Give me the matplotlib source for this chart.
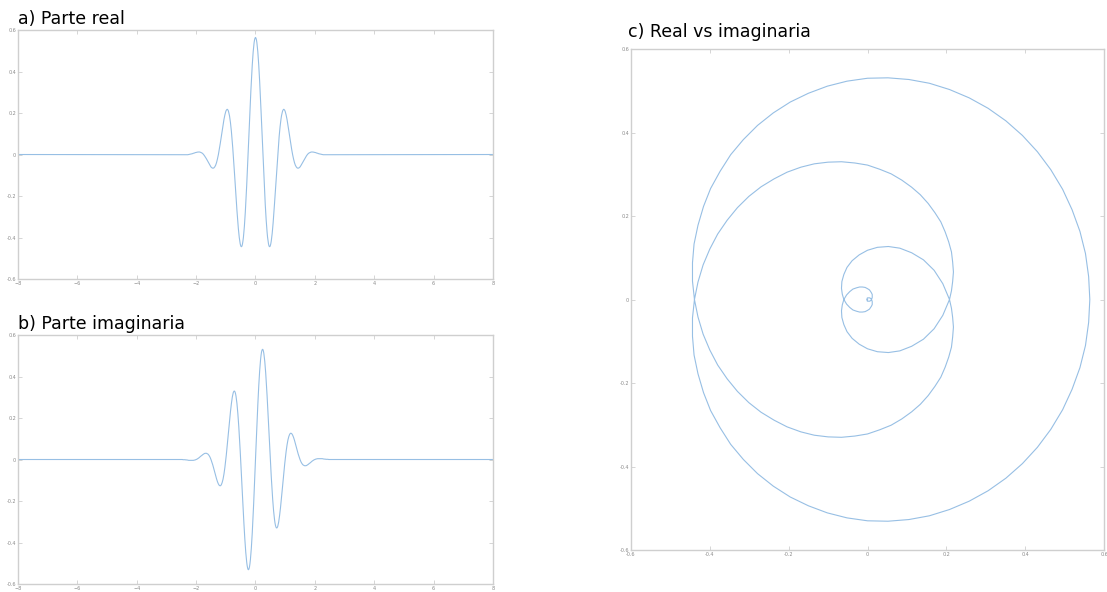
import numpy as np
import matplotlib
matplotlib.use('Agg')
from matplotlib import pyplot as plt

# posiciones de muestreo: pasos de 1/32, más finos (1/64) entre -1 y 1,
# y colas planas hasta +-8
t = ([-8.0] + list(np.arange(-80, -32) / 32) + list(np.arange(-64, 65) / 64)
     + list(np.arange(33, 81) / 32) + [8.0])

# parte real leída del gráfico a)
real = [0.0,
        -0.001, -0.001, -0.001, -0.001, -0.001, -0.001, -0.001, -0.001,
        0.0, 0.001, 0.002, 0.003, 0.004, 0.006, 0.007, 0.009,
        0.010, 0.011, 0.012, 0.012, 0.012, 0.010, 0.008, 0.005,
        0.0, -0.006, -0.013, -0.020, -0.028, -0.037, -0.045, -0.053,
        -0.060, -0.064, -0.066, -0.065, -0.060, -0.052, -0.039, -0.021,
        0.0, 0.025, 0.053, 0.082, 0.112, 0.142, 0.169, 0.191,
        # tramo fino
        0.208, 0.213, 0.216, 0.218, 0.216, 0.213, 0.206, 0.197,
        0.186, 0.171, 0.154, 0.134, 0.112, 0.087, 0.060, 0.031,
        0.0, -0.032, -0.066, -0.100, -0.135, -0.169, -0.204, -0.237,
        -0.270, -0.301, -0.330, -0.356, -0.380, -0.400, -0.417, -0.430,
        -0.439, -0.444, -0.444, -0.440, -0.430, -0.416, -0.398, -0.374,
        -0.347, -0.315, -0.279, -0.239, -0.196, -0.150, -0.102, -0.052,
        0.0, 0.052, 0.105, 0.157, 0.208, 0.258, 0.306, 0.351,
        0.393, 0.431, 0.465, 0.495, 0.519, 0.539, 0.553, 0.561,
        0.564,
        0.561, 0.553, 0.539, 0.519, 0.495, 0.465, 0.431, 0.393,
        0.351, 0.306, 0.258, 0.208, 0.157, 0.105, 0.052, 0.0,
        -0.052, -0.102, -0.150, -0.196, -0.239, -0.279, -0.315, -0.347,
        -0.374, -0.398, -0.416, -0.430, -0.440, -0.444, -0.444, -0.439,
        -0.430, -0.417, -0.400, -0.380, -0.356, -0.330, -0.301, -0.270,
        -0.237, -0.204, -0.169, -0.135, -0.100, -0.066, -0.032, 0.0,
        0.031, 0.060, 0.087, 0.112, 0.134, 0.154, 0.171, 0.186,
        0.197, 0.206, 0.213, 0.216, 0.218, 0.216, 0.213, 0.208,
        # fin del tramo fino
        0.191, 0.169, 0.142, 0.112, 0.082, 0.053, 0.025, 0.0,
        -0.021, -0.039, -0.052, -0.060, -0.065, -0.066, -0.064, -0.060,
        -0.053, -0.045, -0.037, -0.028, -0.020, -0.013, -0.006, 0.0,
        0.005, 0.008, 0.010, 0.012, 0.012, 0.012, 0.011, 0.010,
        0.009, 0.007, 0.006, 0.004, 0.003, 0.002, 0.001, 0.0,
        -0.001, -0.001, -0.001, -0.001, -0.001, -0.001, -0.001, -0.001,
        0.0]

# parte imaginaria leída del gráfico b)
imag = [0.0,
        0.0, 0.0, -0.001, -0.001, -0.001, -0.002, -0.002, -0.003,
        -0.004, -0.004, -0.004, -0.004, -0.004, -0.004, -0.003, -0.002,
        0.0, 0.002, 0.005, 0.008, 0.012, 0.016, 0.019, 0.023,
        0.026, 0.029, 0.030, 0.030, 0.028, 0.025, 0.019, 0.011,
        0.0, -0.013, -0.027, -0.043, -0.060, -0.077, -0.093, -0.107,
        -0.118, -0.125, -0.127, -0.123, -0.112, -0.095, -0.070, -0.038,
        # tramo fino
        0.0, 0.021, 0.043, 0.066, 0.090, 0.114, 0.138, 0.162,
        0.186, 0.208, 0.230, 0.251, 0.269, 0.286, 0.301, 0.312,
        0.322, 0.327, 0.330, 0.329, 0.325, 0.317, 0.305, 0.289,
        0.270, 0.247, 0.220, 0.190, 0.157, 0.121, 0.083, 0.042,
        0.0, -0.044, -0.088, -0.133, -0.178, -0.223, -0.266, -0.307,
        -0.347, -0.383, -0.417, -0.447, -0.473, -0.494, -0.511, -0.523,
        -0.530, -0.531, -0.527, -0.518, -0.503, -0.483, -0.458, -0.428,
        -0.393, -0.354, -0.311, -0.264, -0.215, -0.163, -0.110, -0.055,
        0.0,
        0.055, 0.110, 0.163, 0.215, 0.264, 0.311, 0.354, 0.393,
        0.428, 0.458, 0.483, 0.503, 0.518, 0.527, 0.531, 0.530,
        0.523, 0.511, 0.494, 0.473, 0.447, 0.417, 0.383, 0.347,
        0.307, 0.266, 0.223, 0.178, 0.133, 0.088, 0.044, 0.0,
        -0.042, -0.083, -0.121, -0.157, -0.190, -0.220, -0.247, -0.270,
        -0.289, -0.305, -0.317, -0.325, -0.329, -0.330, -0.327, -0.322,
        -0.312, -0.301, -0.286, -0.269, -0.251, -0.230, -0.208, -0.186,
        -0.162, -0.138, -0.114, -0.090, -0.066, -0.043, -0.021, 0.0,
        # fin del tramo fino
        0.038, 0.070, 0.095, 0.112, 0.123, 0.127, 0.125, 0.118,
        0.107, 0.093, 0.077, 0.060, 0.043, 0.027, 0.013, 0.0,
        -0.011, -0.019, -0.025, -0.028, -0.030, -0.030, -0.029, -0.026,
        -0.023, -0.019, -0.016, -0.012, -0.008, -0.005, -0.002, 0.0,
        0.002, 0.003, 0.004, 0.004, 0.004, 0.004, 0.004, 0.004,
        0.003, 0.002, 0.002, 0.001, 0.001, 0.001, 0.0, 0.0,
        0.0]

xticks_t = [-8, -6, -4, -2, 0, 2, 4, 6, 8]
ticks_06 = [-0.6, -0.4, -0.2, 0, 0.2, 0.4, 0.6]

line_color = '#97bfe4'
spine_color = '#cfcfcf'


def estilo(ax):
    for s in ax.spines.values():
        s.set_color(spine_color)
        s.set_linewidth(1.0)
    ax.tick_params(direction='in', length=3, width=0.6, colors=spine_color,
                   labelcolor='#8a8a8a', labelsize=3.5, pad=1.5,
                   top=True, right=True)


fig = plt.figure(figsize=(11.07, 5.92), dpi=100)

ax1 = fig.add_axes([0.0163, 0.5287, 0.429, 0.4206])
ax1.plot(t, real, color=line_color, lw=0.8)
ax1.set_xlim(-8, 8)
ax1.set_ylim(-0.6, 0.6)
ax1.set_xticks(xticks_t)
ax1.set_yticks(ticks_06)
ax1.set_yticklabels(['%g' % v for v in ticks_06])
estilo(ax1)

ax2 = fig.add_axes([0.0163, 0.0135, 0.429, 0.4206])
ax2.plot(t, imag, color=line_color, lw=0.8)
ax2.set_xlim(-8, 8)
ax2.set_ylim(-0.6, 0.6)
ax2.set_xticks(xticks_t)
ax2.set_yticks(ticks_06)
ax2.set_yticklabels(['%g' % v for v in ticks_06])
estilo(ax2)

ax3 = fig.add_axes([0.570, 0.0709, 0.4273, 0.8463])
ax3.plot(real, imag, color=line_color, lw=0.8)
ax3.set_xlim(-0.6, 0.6)
ax3.set_ylim(-0.6, 0.6)
ax3.set_xticks(ticks_06)
ax3.set_yticks(ticks_06)
ax3.set_xticklabels(['%g' % v for v in ticks_06])
ax3.set_yticklabels(['%g' % v for v in ticks_06])
estilo(ax3)

fig.text(18 / 1107, 1 - 24 / 592, 'a) Parte real', fontsize=12.5, va='baseline')
fig.text(18 / 1107, 1 - 329 / 592, 'b) Parte imaginaria', fontsize=12.5, va='baseline')
fig.text(628 / 1107, 1 - 37 / 592, 'c) Real vs imaginaria', fontsize=12.5, va='baseline')

fig.savefig('out.png', dpi=100, facecolor='white')
